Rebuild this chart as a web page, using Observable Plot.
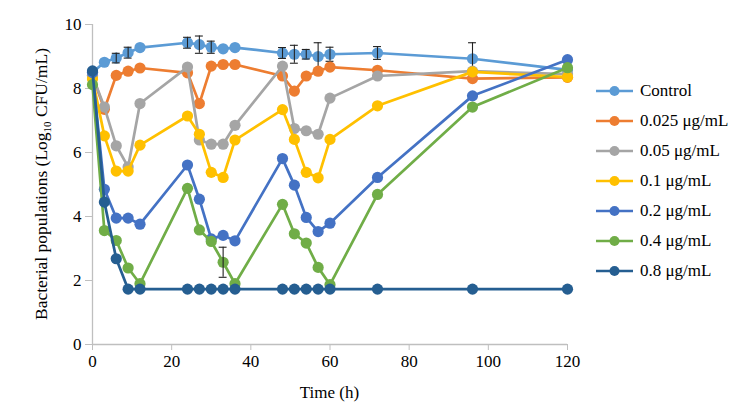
<!DOCTYPE html>
<html><head><meta charset="utf-8">
<script src="https://cdn.jsdelivr.net/npm/d3@7"></script>
<script src="https://cdn.jsdelivr.net/npm/@observablehq/plot@0.6"></script>
<style>
body{margin:0;background:#fff;}
#wrap{position:relative;width:744px;height:413px;font-family:'Liberation Serif',serif;}
#wrap svg text{font-family:'Liberation Serif',serif;}
#legend{position:absolute;left:596px;top:76px;}
.item{display:flex;align-items:center;height:30px;font-size:17px;color:#000;white-space:nowrap;font-family:'Liberation Serif',serif;}
.item svg{margin-right:6px;}
</style></head><body><div id="wrap"><div id="legend"></div></div>
<script>
const times = [0,3,6,9,12,24,27,30,33,36,48,51,54,57,60,72,96,120];
const seriesNames = ["Control","0.025 μg/mL","0.05 μg/mL","0.1 μg/mL","0.2 μg/mL","0.4 μg/mL","0.8 μg/mL"];
const seriesColors = ["#5B9BD5","#ED7D31","#A5A5A5","#FFC000","#4472C4","#70AD47","#255E91"];
const control = [8.5,8.82,8.95,9.12,9.28,9.43,9.37,9.29,9.24,9.28,9.11,9.07,9.07,9.0,9.07,9.11,8.93,8.58];
const c0025   = [8.4,7.35,8.41,8.54,8.64,8.49,7.53,8.7,8.75,8.75,8.39,7.92,8.39,8.54,8.67,8.57,8.31,8.35];
const c005    = [8.4,7.42,6.21,5.55,7.53,8.67,6.39,6.26,6.26,6.85,8.7,6.75,6.68,6.57,7.7,8.39,8.54,8.45];
const c01     = [8.3,6.52,5.42,5.42,6.23,7.14,6.57,5.38,5.22,6.39,7.34,6.41,5.38,5.21,6.41,7.46,8.52,8.36];
const c02     = [8.5,4.85,3.95,3.95,3.76,5.61,4.54,3.3,3.41,3.24,5.81,4.98,3.97,3.53,3.79,5.22,7.77,8.9];
const c04     = [8.12,3.56,3.25,2.39,1.9,4.88,3.58,3.22,2.57,1.9,4.38,3.46,3.17,2.41,1.87,4.69,7.42,8.65];
const c08     = [8.55,4.45,2.68,1.73,1.73,1.73,1.73,1.73,1.73,1.73,1.73,1.73,1.73,1.73,1.73,1.73,1.73,1.73];
const controlErr = [0,0,0.15,0.17,0,0.17,0.27,0.19,0,0,0.17,0.28,0.15,0.43,0.22,0.2,0.5,0];
const c04Err     = [0,0,0,0,0,0,0,0,0.47,0,0,0,0,0,0,0,0,0];
const xTicks = [0,20,40,60,80,100,120];
const yTicks = [0,2,4,6,8,10];

const seriesValues = [control,c0025,c005,c01,c02,c04,c08];
const seriesErrs = [controlErr,null,null,null,null,c04Err,null];
const FONT = "'Liberation Serif', serif";

const marks = [
  Plot.ruleY([0], {stroke:"#BFBFBF", strokeWidth:1.3}),
  Plot.ruleX([0], {y1:0, y2:10, stroke:"#BFBFBF", strokeWidth:1.3}),
  Plot.axisX({ticks:xTicks, tickSize:6, tickPadding:4, stroke:"#BFBFBF", fill:"#000", label:null, fontSize:17, fontFamily:FONT}),
  Plot.axisY({ticks:yTicks, tickSize:7, tickPadding:4, stroke:"#BFBFBF", fill:"#000", label:null, fontSize:17, fontFamily:FONT})
];
seriesNames.forEach((name,i)=>{
  const rows = times.map((t,j)=>({t, v:seriesValues[i][j], e: seriesErrs[i] ? seriesErrs[i][j] : 0}));
  marks.push(Plot.line(rows, {x:"t", y:"v", stroke:seriesColors[i], strokeWidth:2.7}));
  marks.push(Plot.dot(rows, {x:"t", y:"v", fill:seriesColors[i], r:5.6}));
  const errs = rows.filter(d=>d.e>0);
  if (errs.length) {
    marks.push(Plot.ruleX(errs, {x:"t", y1:d=>d.v-d.e, y2:d=>d.v+d.e, stroke:"#222", strokeWidth:1.1}));
    marks.push(Plot.ruleY(errs, {y:d=>d.v+d.e, x1:d=>d.t-1, x2:d=>d.t+1, stroke:"#222", strokeWidth:1.1}));
    marks.push(Plot.ruleY(errs, {y:d=>d.v-d.e, x1:d=>d.t-1, x2:d=>d.t+1, stroke:"#222", strokeWidth:1.1}));
  }
});

const plot = Plot.plot({
  width:744, height:413,
  marginLeft:92, marginRight:177, marginTop:24, marginBottom:69,
  style:{fontFamily:FONT, fontSize:"17px", color:"#000", background:"#fff", overflow:"visible"},
  x:{domain:[0,120]},
  y:{domain:[0,10]},
  marks
});
document.getElementById("wrap").prepend(plot);

const svg = d3.select(plot);
const xr = plot.scale("x").range, yr = plot.scale("y").range;
svg.append("text")
  .attr("x",(xr[0]+xr[1])/2).attr("y",398)
  .attr("text-anchor","middle").attr("font-size",17).attr("font-weight","normal")
  .attr("font-family",FONT).attr("fill","#000")
  .text("Time (h)");
const yl = svg.append("text")
  .attr("transform",`translate(47,${(yr[0]+yr[1])/2}) rotate(-90)`)
  .attr("text-anchor","middle").attr("font-size",17.5).attr("font-family",FONT).attr("fill","#000");
yl.append("tspan").text("Bacterial populations (Log");
yl.append("tspan").attr("font-size",11).attr("dy",4).text("10");
yl.append("tspan").attr("dy",-4).text(" CFU/mL)");

const legend = d3.select("#legend");
seriesNames.forEach((name,i)=>{
  const it = legend.append("div").attr("class","item");
  const s = it.append("svg").attr("width",38).attr("height",12);
  s.append("line").attr("x1",0).attr("x2",37).attr("y1",6).attr("y2",6).attr("stroke",seriesColors[i]).attr("stroke-width",2.7);
  s.append("circle").attr("cx",18.5).attr("cy",6).attr("r",5).attr("fill",seriesColors[i]);
  it.append("span").text(name);
});
</script>
</body></html>
